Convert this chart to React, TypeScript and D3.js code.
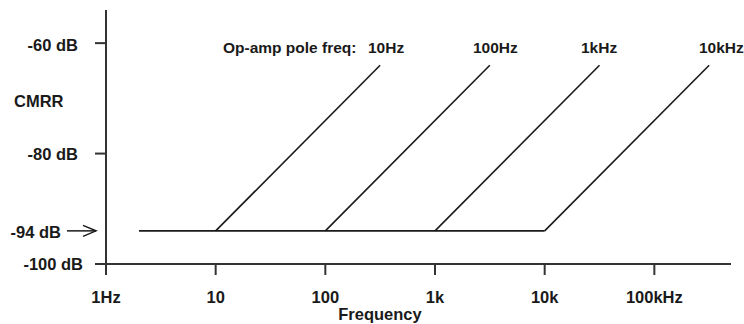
import React from "react";
import * as d3 from "d3";

// ---- data ----
const xTickValues = [1, 10, 100, 1000, 10000, 100000];
const xTickLabels = ["1Hz", "10", "100", "1k", "10k", "100kHz"];
const yTickValues = [-60, -80, -100];
const yTickLabels = ["-60 dB", "-80 dB", "-100 dB"];
const floorDb = -94;
const floorLabel = "-94 dB";
const floorStartFreq = 2;
const poleFreqs = [10, 100, 1000, 10000];
const poleLabels = ["10Hz", "100Hz", "1kHz", "10kHz"];
const lineEndFreqs = [316, 3162, 31623, 316228];
const lineEndDb = [-64, -64, -64, -64];
const annotationTitle = "Op-amp pole freq:";
const yAxisTitle = "CMRR";
const xAxisTitle = "Frequency";

const W = 744;
const H = 324;
const FONT = "'Liberation Sans', Arial, Helvetica, sans-serif";

export default function App() {
  const x = d3.scaleLog().domain([1, 500000]).range([106, 731]);
  const y = d3.scaleLinear().domain([-100, -54]).range([264, 10]);

  const axisColor = "#333";
  const lineColor = "#1a1a1a";
  const textColor = "#1a1a1a";

  const line = d3
    .line<[number, number]>()
    .x((d) => x(d[0]))
    .y((d) => y(d[1]));

  const floorPts: [number, number][] = [
    [floorStartFreq, floorDb],
    [poleFreqs[poleFreqs.length - 1], floorDb],
  ];

  const labelStartX = [368, 473, 581, 699];
  const yLabelDx = [0, 0, 5];
  const yLabelDy = [8, 6, 6];

  const y0 = y(-100);
  const x0 = x(1);
  const arrowY = y(floorDb);

  return (
    <svg
      width={W}
      height={H}
      style={{ position: "absolute", left: 0, top: 0, display: "block", background: "#fff" }}
      fontFamily={FONT}
      fontWeight="bold"
    >
      {/* axes */}
      <line x1={x0} x2={x0} y1={y(-54)} y2={y0 + 11} stroke={axisColor} strokeWidth={2} />
      <line x1={x0 - 11} x2={x(500000)} y1={y0} y2={y0} stroke={axisColor} strokeWidth={2} />
      {yTickValues.map((v, i) => (
        <g key={"yt" + v}>
          <line x1={x0 - 11} x2={x0} y1={y(v)} y2={y(v)} stroke={axisColor} strokeWidth={2} />
          <text
            x={78 + yLabelDx[i]}
            y={y(v) + yLabelDy[i]}
            textAnchor="end"
            fontSize={16.5}
            fill={textColor}
          >
            {yTickLabels[i]}
          </text>
        </g>
      ))}
      {xTickValues.map((v, i) => (
        <g key={"xt" + v}>
          <line x1={x(v)} x2={x(v)} y1={y0} y2={y0 + 11} stroke={axisColor} strokeWidth={2} />
          <text x={x(v)} y={303} textAnchor="middle" fontSize={16.5} fill={textColor}>
            {xTickLabels[i]}
          </text>
        </g>
      ))}

      {/* axis titles */}
      <text x={14} y={107} fontSize={16.5} fill={textColor}>
        {yAxisTitle}
      </text>
      <text x={380} y={320} textAnchor="middle" fontSize={16.5} fill={textColor}>
        {xAxisTitle}
      </text>

      {/* -94 dB marker with arrow */}
      <text x={61} y={arrowY + 7} textAnchor="end" fontSize={16.5} fill={textColor}>
        {floorLabel}
      </text>
      <line x1={67} x2={96} y1={arrowY} y2={arrowY} stroke={lineColor} strokeWidth={1.5} />
      <polyline
        points={`${83},${arrowY - 5.5} ${96},${arrowY} ${83},${arrowY + 5.5}`}
        fill="none"
        stroke={lineColor}
        strokeWidth={1.5}
      />

      {/* CMRR floor */}
      <path d={line(floorPts) || ""} fill="none" stroke={lineColor} strokeWidth={1.6} />

      {/* pole lines */}
      {poleFreqs.map((f, i) => (
        <path
          key={"pl" + f}
          d={
            line([
              [f, floorDb],
              [lineEndFreqs[i], lineEndDb[i]],
            ]) || ""
          }
          fill="none"
          stroke={lineColor}
          strokeWidth={1.6}
        />
      ))}

      {/* annotations */}
      <text x={223} y={53} fontSize={15.5} fill={textColor}>
        {annotationTitle}
      </text>
      {poleLabels.map((t, i) => (
        <text key={"lab" + t} x={labelStartX[i]} y={53} fontSize={15.5} fill={textColor}>
          {t}
        </text>
      ))}
    </svg>
  );
}
